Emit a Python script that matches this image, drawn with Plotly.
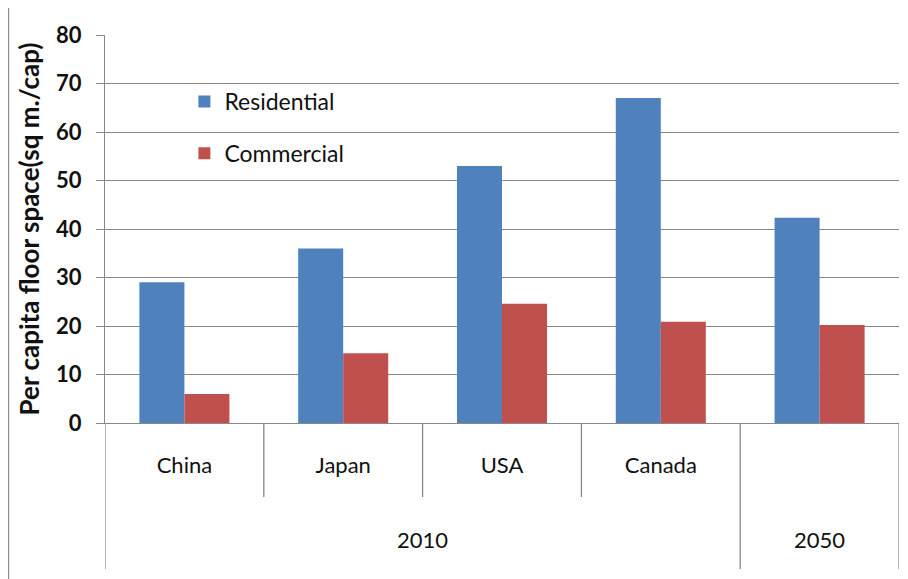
import plotly.graph_objects as go

categories = ["China", "Japan", "USA", "Canada", "2050 avg"]
cat_labels = ["China", "Japan", "USA", "Canada", ""]
years = ["2010", "2050"]
year_centers = [1.5, 4]
residential = [29, 36, 53, 67, 42.3]
commercial = [6, 14.4, 24.6, 20.9, 20.2]
y_ticks = [0, 10, 20, 30, 40, 50, 60, 70, 80]

FONT = "Lato, Liberation Sans, sans-serif"
GRID = "#888888"

# the page has an 8px body margin; work in page pixels, convert to figure
OFF = 8
FW, FH = 908 - OFF, 579 - OFF

fig = go.Figure()
fig.add_trace(go.Bar(x=categories, y=residential, name="Residential",
                     marker=dict(color="#4F81BD", line=dict(width=0)),
                     legendgroup="r"))
fig.add_trace(go.Bar(x=categories, y=commercial, name="Commercial",
                     marker=dict(color="#C0504D", line=dict(width=0)),
                     legendgroup="c"))

# plot area in page pixels: x 105..899, y 35..423
PL, PR, PT, PB = 105, 899, 35, 423
H = PB - PT
W = PR - PL

def py(pix):
    return (PB - pix) / H

def px(pix):
    return (pix - PL) / W

shapes = []
for xv in [0.5, 1.5, 2.5]:
    shapes.append(dict(type="line", xref="x", yref="paper", x0=xv, x1=xv,
                       y0=0, y1=py(497), line=dict(color=GRID, width=1.3)))
for xv in [-0.5, 3.5, 4.5]:
    shapes.append(dict(type="line", xref="x", yref="paper", x0=xv, x1=xv,
                       y0=0, y1=py(569), line=dict(color=GRID, width=1.3)))
# outer frame
shapes.append(dict(type="rect", xref="paper", yref="paper",
                   x0=px(8.5), x1=px(940), y0=py(620), y1=py(6),
                   line=dict(color="#8c8c8c", width=1.3), fillcolor="rgba(0,0,0,0)"))

annotations = []
for yr, xc in zip(years, year_centers):
    annotations.append(dict(text=yr, x=xc, xref="x", y=py(539), yref="paper",
                            showarrow=False, xanchor="center", yanchor="middle",
                            font=dict(family=FONT, size=22, color="#111111")))

fig.update_layout(
    width=FW, height=FH,
    margin=dict(l=PL - OFF, r=908 - PR, t=PT - OFF, b=579 - PB, pad=0),
    paper_bgcolor="white", plot_bgcolor="white",
    barmode="group", bargap=0.433, bargroupgap=0,
    shapes=shapes, annotations=annotations,
    showlegend=True,
    legend=dict(x=0.1, y=py(80), xanchor="left", yanchor="top",
                font=dict(family=FONT, size=23, color="#111111"),
                tracegroupgap=19, traceorder="grouped",
                bgcolor="rgba(0,0,0,0)", itemsizing="constant"),
    font=dict(family=FONT, color="#111111"),
)
fig.update_xaxes(type="category", categoryorder="array", categoryarray=categories,
                 tickvals=categories, ticktext=cat_labels,
                 showgrid=False, ticks="", showline=True, linecolor=GRID, linewidth=1.3,
                 tickfont=dict(family=FONT, size=22, color="#111111"),
                 ticklabelstandoff=22, range=[-0.5, 4.5])
fig.update_yaxes(range=[0, 80], tickvals=y_ticks, showgrid=True, gridcolor=GRID, gridwidth=1.3,
                 showline=True, linecolor=GRID, linewidth=1.3, ticks="outside", ticklen=8,
                 tickcolor=GRID, tickwidth=1.3, zeroline=False,
                 tickfont=dict(family=FONT, size=22, color="#111111", weight="bold"),
                 ticklabelstandoff=10,
                 title=dict(text="Per capita floor space(sq m./cap)", standoff=8,
                            font=dict(family=FONT, size=26, color="#111111", weight="bold")))

fig.write_html("out.html")
